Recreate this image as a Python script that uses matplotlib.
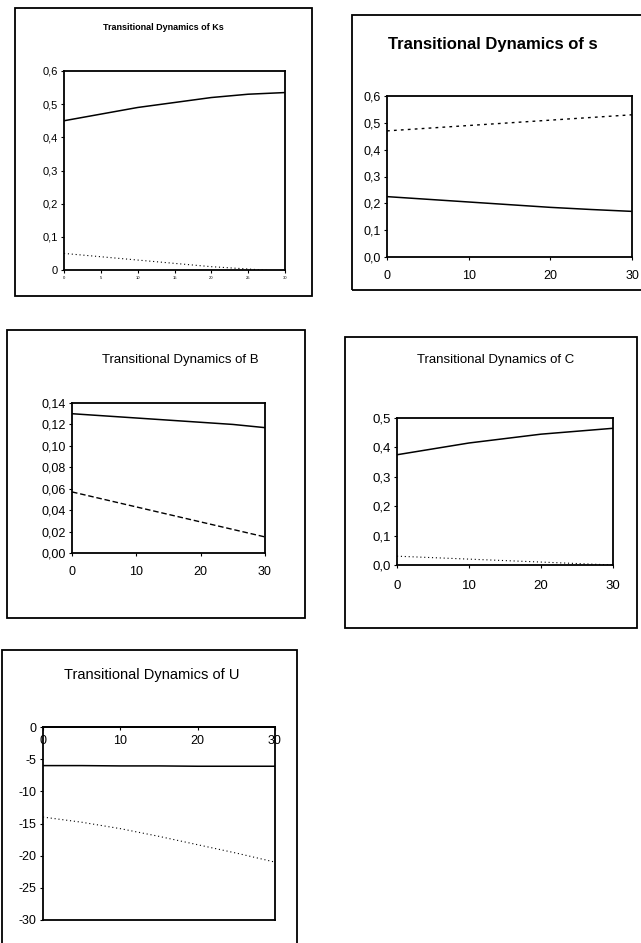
import matplotlib
matplotlib.use("Agg")
import matplotlib.pyplot as plt
from matplotlib.patches import Rectangle
from matplotlib.ticker import FuncFormatter

plt.rcParams["font.family"] = ["Liberation Sans", "DejaVu Sans"]
plt.rcParams["axes.unicode_minus"] = False

W, H = 641, 943
t = [0, 5, 10, 15, 20, 25, 30]

ks_solid = [0.450, 0.470, 0.490, 0.505, 0.520, 0.530, 0.535]
ks_dot = [0.050, 0.040, 0.030, 0.020, 0.010, 0.003, -0.005]
s_solid = [0.225, 0.215, 0.205, 0.195, 0.185, 0.177, 0.170]
s_dot = [0.470, 0.480, 0.490, 0.500, 0.510, 0.520, 0.530]
b_solid = [0.130, 0.128, 0.126, 0.124, 0.122, 0.120, 0.117]
b_dash = [0.057, 0.050, 0.043, 0.036, 0.029, 0.022, 0.015]
c_solid = [0.375, 0.395, 0.415, 0.430, 0.445, 0.455, 0.465]
c_dot = [0.030, 0.025, 0.020, 0.015, 0.010, 0.005, 0.000]
u_solid = [-6.0, -6.0, -6.05, -6.05, -6.1, -6.1, -6.1]
u_dot = [-14.0, -14.8, -15.8, -17.0, -18.3, -19.6, -21.0]

fig = plt.figure(figsize=(W / 100, H / 100), dpi=100)


def box(x0, y0, x1, y1):
    # outer chart-area frame, given in pixel coords (top-left origin)
    fig.patches.append(Rectangle((x0 / W, 1 - y1 / H), (x1 - x0) / W, (y1 - y0) / H,
                                 transform=fig.transFigure, fill=False, lw=1.3, ec="k"))


def axes(x0, y0, x1, y1):
    ax = fig.add_axes([x0 / W, 1 - y1 / H, (x1 - x0) / W, (y1 - y0) / H])
    for sp in ax.spines.values():
        sp.set_linewidth(1.3)
    ax.tick_params(direction="out", length=2.5, width=0.8, pad=2)
    return ax


def comma(dec):
    return FuncFormatter(lambda v, p: f"{v:.{dec}f}".replace(".", ","))


# Ks
box(15, 8, 312, 296)
fig.text(163 / W, 1 - 27 / H, "Transitional Dynamics of Ks", ha="center", va="center",
         fontsize=6.5, fontweight="bold")
ax = axes(64, 71, 285, 270)
ax.plot(t, ks_solid, color="k", lw=1.1)
ax.plot(t, ks_dot, color="k", lw=0.8, ls=(0, (1, 2.5)))
ax.set_xlim(0, 30); ax.set_ylim(0, 0.6)
ax.set_yticks([0, 0.1, 0.2, 0.3, 0.4, 0.5, 0.6])
ax.yaxis.set_major_formatter(FuncFormatter(lambda v, p: "0" if v == 0 else f"{v:.1f}".replace(".", ",")))
ax.set_xticks(t)
ax.tick_params(axis="y", labelsize=8)
ax.tick_params(axis="x", labelsize=3)

# s
box(352, 15, 645, 290)
fig.text(493 / W, 1 - 45 / H, "Transitional Dynamics of s", ha="center", va="center",
         fontsize=12, fontweight="bold")
ax = axes(387, 96, 632, 257)
ax.plot(t, s_solid, color="k", lw=1.1)
ax.plot(t, s_dot, color="k", lw=1.0, ls=(0, (2, 3)))
ax.set_xlim(0, 30); ax.set_ylim(0, 0.6)
ax.set_yticks([0, 0.1, 0.2, 0.3, 0.4, 0.5, 0.6])
ax.yaxis.set_major_formatter(comma(1))
ax.set_xticks([0, 10, 20, 30])
ax.tick_params(labelsize=9)
ax.tick_params(axis="x", pad=7)

# B
box(7, 330, 305, 618)
fig.text(180 / W, 1 - 360 / H, "Transitional Dynamics of B", ha="center", va="center",
         fontsize=9.5)
ax = axes(72, 403, 265, 553)
ax.plot(t, b_solid, color="k", lw=1.1)
ax.plot(t, b_dash, color="k", lw=1.0, ls=(0, (4, 2)))
ax.set_xlim(0, 30); ax.set_ylim(0, 0.14)
ax.set_yticks([0, 0.02, 0.04, 0.06, 0.08, 0.10, 0.12, 0.14])
ax.yaxis.set_major_formatter(comma(2))
ax.set_xticks([0, 10, 20, 30])
ax.tick_params(labelsize=9)
ax.tick_params(axis="x", pad=7)

# C
box(345, 337, 637, 628)
fig.text(496 / W, 1 - 360 / H, "Transitional Dynamics of C", ha="center", va="center",
         fontsize=9.5)
ax = axes(397, 418, 613, 565)
ax.plot(t, c_solid, color="k", lw=1.1)
ax.plot(t, c_dot, color="k", lw=0.8, ls=(0, (1, 2.5)))
ax.set_xlim(0, 30); ax.set_ylim(0, 0.5)
ax.set_yticks([0, 0.1, 0.2, 0.3, 0.4, 0.5])
ax.yaxis.set_major_formatter(comma(1))
ax.set_xticks([0, 10, 20, 30])
ax.tick_params(labelsize=9.5)
ax.tick_params(axis="x", pad=8)

# U
box(2, 650, 297, 950)
fig.text(152 / W, 1 - 675 / H, "Transitional Dynamics of U", ha="center", va="center",
         fontsize=10.5)
ax = axes(43, 727, 275, 920)
ax.plot(t, u_solid, color="k", lw=1.1)
ax.plot(t, u_dot, color="k", lw=0.8, ls=(0, (1, 2.5)))
ax.set_xlim(0, 30); ax.set_ylim(-30, 0)
ax.spines["bottom"].set_position(("data", 0))
ax.axhline(-30, color="k", lw=1.3, clip_on=False)
ax.set_yticks([0, -5, -10, -15, -20, -25, -30])
ax.set_xticks([0, 10, 20, 30])
ax.tick_params(labelsize=9)
ax.tick_params(axis="x", pad=3)

fig.savefig("out.png", dpi=100)
